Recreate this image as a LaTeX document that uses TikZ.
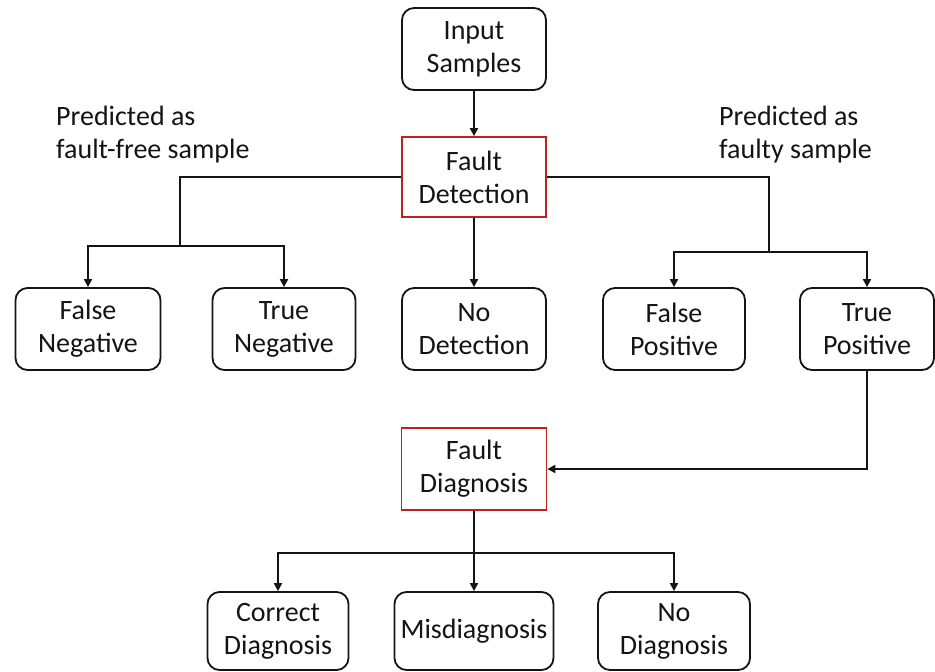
\documentclass[tikz,border=0pt]{standalone}
\usepackage{fontspec}
\setmainfont{Carlito}
\usetikzlibrary{arrows.meta}
\definecolor{boxred}{RGB}{192,32,32}
\definecolor{ink}{RGB}{20,20,20}
\begin{document}
\begin{tikzpicture}[x=1pt,y=-1pt,
  every node/.style={font=\fontsize{28}{33}\selectfont, text=ink},
  outcome/.style={draw=ink, line width=1.8pt, rounded corners=12pt, align=center, inner sep=0pt},
  stage/.style={draw=boxred, line width=1.8pt, align=center, inner sep=0pt},
  conn/.style={draw=ink, line width=1.8pt},
  arr/.style={conn, -{Triangle[length=8pt,width=8pt]}},
  lbl/.style={align=left, inner sep=0pt, anchor=north west}
]
\useasboundingbox (0,0) rectangle (935,672);
% stages
\node[outcome, minimum width=144, minimum height=82] (in) at (474,49) {Input\\Samples};
\node[stage, minimum width=144, minimum height=80] (fd) at (474,177) {Fault\\Detection};
\node[outcome, minimum width=145, minimum height=82] (fn) at (88,329) {False\\Negative};
\node[outcome, minimum width=143, minimum height=82] (tn) at (284,329) {True\\Negative};
\node[outcome, minimum width=144, minimum height=82] (nd) at (474,329) {No\\Detection};
\node[outcome, minimum width=142, minimum height=82] (fp) at (674,329) {False\\Positive};
\node[outcome, minimum width=134, minimum height=82] (tp) at (867,329) {True\\Positive};
\node[stage, minimum width=145, minimum height=82] (fg) at (474,469) {Fault\\Diagnosis};
\node[outcome, minimum width=141, minimum height=78] (cd) at (278,631) {Correct\\Diagnosis};
\node[outcome, minimum width=159, minimum height=78] (md) at (474,631) {Misdiagnosis};
\node[outcome, minimum width=152, minimum height=78] (ng) at (674,631) {No\\Diagnosis};
% labels
\node[lbl] (ll) at (56,106) {Predicted as\\fault-free sample};
\node[lbl] (rl) at (719,106) {Predicted as\\faulty sample};
% junctions
\coordinate (jl) at (180,246);
\coordinate (jr) at (769,252);
\coordinate (jd) at (474,553);
% connectors
\draw[arr] (in) -- (fd);
\draw[arr] (fd) -- (nd);
\draw[conn] (fd.west) -| (jl);
\draw[arr] (jl) -| (fn.north);
\draw[arr] (jl) -| (tn.north);
\draw[conn] (fd.east) -| (jr);
\draw[arr] (jr) -| (fp.north);
\draw[arr] (jr) -| (tp.north);
\draw[arr] (tp.south) |- (fg.east);
\draw[conn] (fg.south) -- (jd);
\draw[arr] (jd) -| (cd.north);
\draw[arr] (jd) -- (md.north);
\draw[arr] (jd) -| (ng.north);
\end{tikzpicture}
\end{document}
